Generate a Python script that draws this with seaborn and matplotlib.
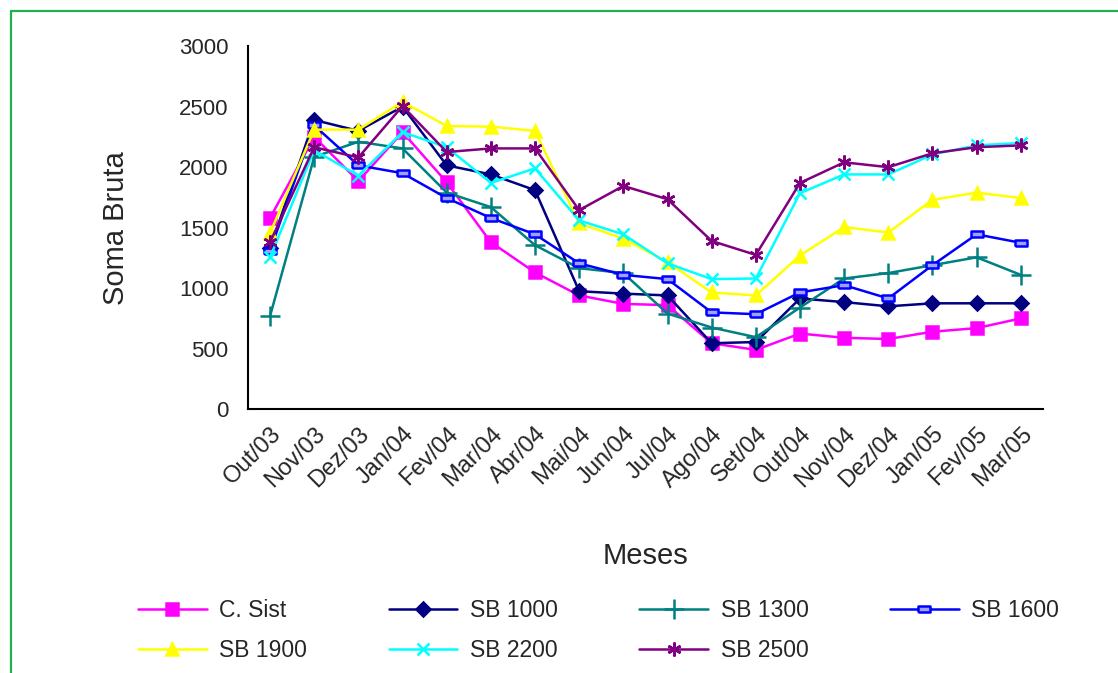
import numpy as np
import pandas as pd
import seaborn as sns
import matplotlib.pyplot as plt
from matplotlib.lines import Line2D

meses = ['Out/03', 'Nov/03', 'Dez/03', 'Jan/04', 'Fev/04', 'Mar/04', 'Abr/04', 'Mai/04', 'Jun/04',
         'Jul/04', 'Ago/04', 'Set/04', 'Out/04', 'Nov/04', 'Dez/04', 'Jan/05', 'Fev/05', 'Mar/05']

c_sist = [1580, 2250, 1885, 2290, 1875, 1380, 1130, 940, 870, 860, 545, 490, 625, 590, 580, 640, 670, 750]
sb1000 = [1330, 2390, 2300, 2500, 2015, 1940, 1810, 975, 955, 940, 545, 555, 915, 885, 850, 875, 875, 875]
sb1300 = [770, 2085, 2210, 2155, 1790, 1670, 1355, 1165, 1125, 790, 675, 595, 840, 1080, 1125, 1190, 1255, 1110]
sb1600 = [1310, 2345, 2015, 1950, 1745, 1580, 1445, 1205, 1110, 1075, 800, 785, 965, 1025, 915, 1190, 1445, 1375]
sb1900 = [1455, 2310, 2310, 2540, 2340, 2335, 2300, 1535, 1410, 1215, 965, 940, 1270, 1505, 1460, 1730, 1790, 1745]
sb2200 = [1255, 2140, 1930, 2290, 2165, 1870, 1990, 1560, 1445, 1205, 1075, 1080, 1785, 1940, 1940, 2105, 2180, 2200]
sb2500 = [1380, 2165, 2080, 2505, 2125, 2155, 2155, 1645, 1845, 1735, 1390, 1275, 1870, 2040, 2000, 2115, 2165, 2180]

series = ['C. Sist', 'SB 1000', 'SB 1300', 'SB 1600', 'SB 1900', 'SB 2200', 'SB 2500']
valores = [c_sist, sb1000, sb1300, sb1600, sb1900, sb2200, sb2500]

cores = ['#FF00FF', '#000080', '#008080', '#0000FF', '#FFFF00', '#00FFFF', '#800080']
rect = [(-1.6, -0.7), (1.6, -0.7), (1.6, 0.7), (-1.6, 0.7), (-1.6, -0.7)]
marcadores = ['s', 'D', '+', rect, '^', 'x', (6, 2, 0)]
tamanhos = [9, 7, 14, 9, 9, 9, 10]
faces = ['#FF00FF', '#000080', '#008080', '#A0A0FF', '#FFFF00', '#00FFFF', '#800080']

linhas = []
for nome, v in zip(series, valores):
    linhas.append(pd.DataFrame({'pos': np.arange(len(meses)), 'valor': v, 'serie': nome}))
df = pd.concat(linhas, ignore_index=True)

sns.set_style('white')
plt.rcParams['font.family'] = ['Liberation Sans', 'DejaVu Sans']

fig = plt.figure(figsize=(11.18, 6.73), dpi=100)
ax = fig.add_axes([0.2218, 0.392, 0.711, 0.5394])

for i, nome in enumerate(series):
    sns.lineplot(data=df[df['serie'] == nome], x='pos', y='valor', color=cores[i],
                 marker=marcadores[i], markersize=tamanhos[i], markerfacecolor=faces[i],
                 markeredgecolor=cores[i], markeredgewidth=1.8, linewidth=1.8, ax=ax, legend=False)

ax.set_xlim(-0.5, len(meses) - 0.5)
ax.set_ylim(0, 3000)
ax.set_yticks(range(0, 3001, 500))
ax.set_xticks(np.arange(-0.5, len(meses), 1.0))
ax.set_xticklabels([])
ax.set_xticks(np.arange(len(meses)), minor=True)
ax.set_xticklabels(meses, minor=True, rotation=45, ha='right', rotation_mode='anchor', fontsize=17)
ax.tick_params(axis='x', which='minor', length=0, pad=10)
ax.tick_params(axis='both', which='major', direction='inout', length=10, width=1.5, color='black',
               labelsize=16)
ax.tick_params(axis='y', pad=9)
for s in ['top', 'right']:
    ax.spines[s].set_visible(False)
for s in ['left', 'bottom']:
    ax.spines[s].set_color('black')
    ax.spines[s].set_linewidth(1.5)
ax.grid(False)

ax.set_xlabel('Meses', fontsize=21)
ax.set_ylabel('Soma Bruta', fontsize=21)
ax.xaxis.set_label_coords(0.5, -0.365)
ax.yaxis.set_label_coords(-0.148, 0.5)

handles = []
for i, nome in enumerate(series):
    handles.append(Line2D([0], [0], color=cores[i], marker=marcadores[i], markersize=tamanhos[i],
                          markerfacecolor=faces[i], markeredgecolor=cores[i], markeredgewidth=1.8,
                          linewidth=1.8, label=nome))
# preencher por linha: 4 na primeira, 3 na segunda
ordem = [0, 4, 1, 5, 2, 6, 3]
fig.legend(handles=[handles[k] for k in ordem], ncol=4, loc='upper left', bbox_to_anchor=(0.105, 0.141),
           frameon=False, fontsize=16.5, handlelength=3.0, columnspacing=3.55, handletextpad=0.55,
           labelspacing=0.75)

fig.add_artist(plt.Line2D([11 / 1118, 11 / 1118], [0, 1 - 11 / 673], color='#20B050', linewidth=1.6,
                          transform=fig.transFigure))
fig.add_artist(plt.Line2D([11 / 1118, 1], [1 - 11 / 673, 1 - 11 / 673], color='#20B050', linewidth=1.6,
                          transform=fig.transFigure))

fig.savefig('out.png', dpi=100)
